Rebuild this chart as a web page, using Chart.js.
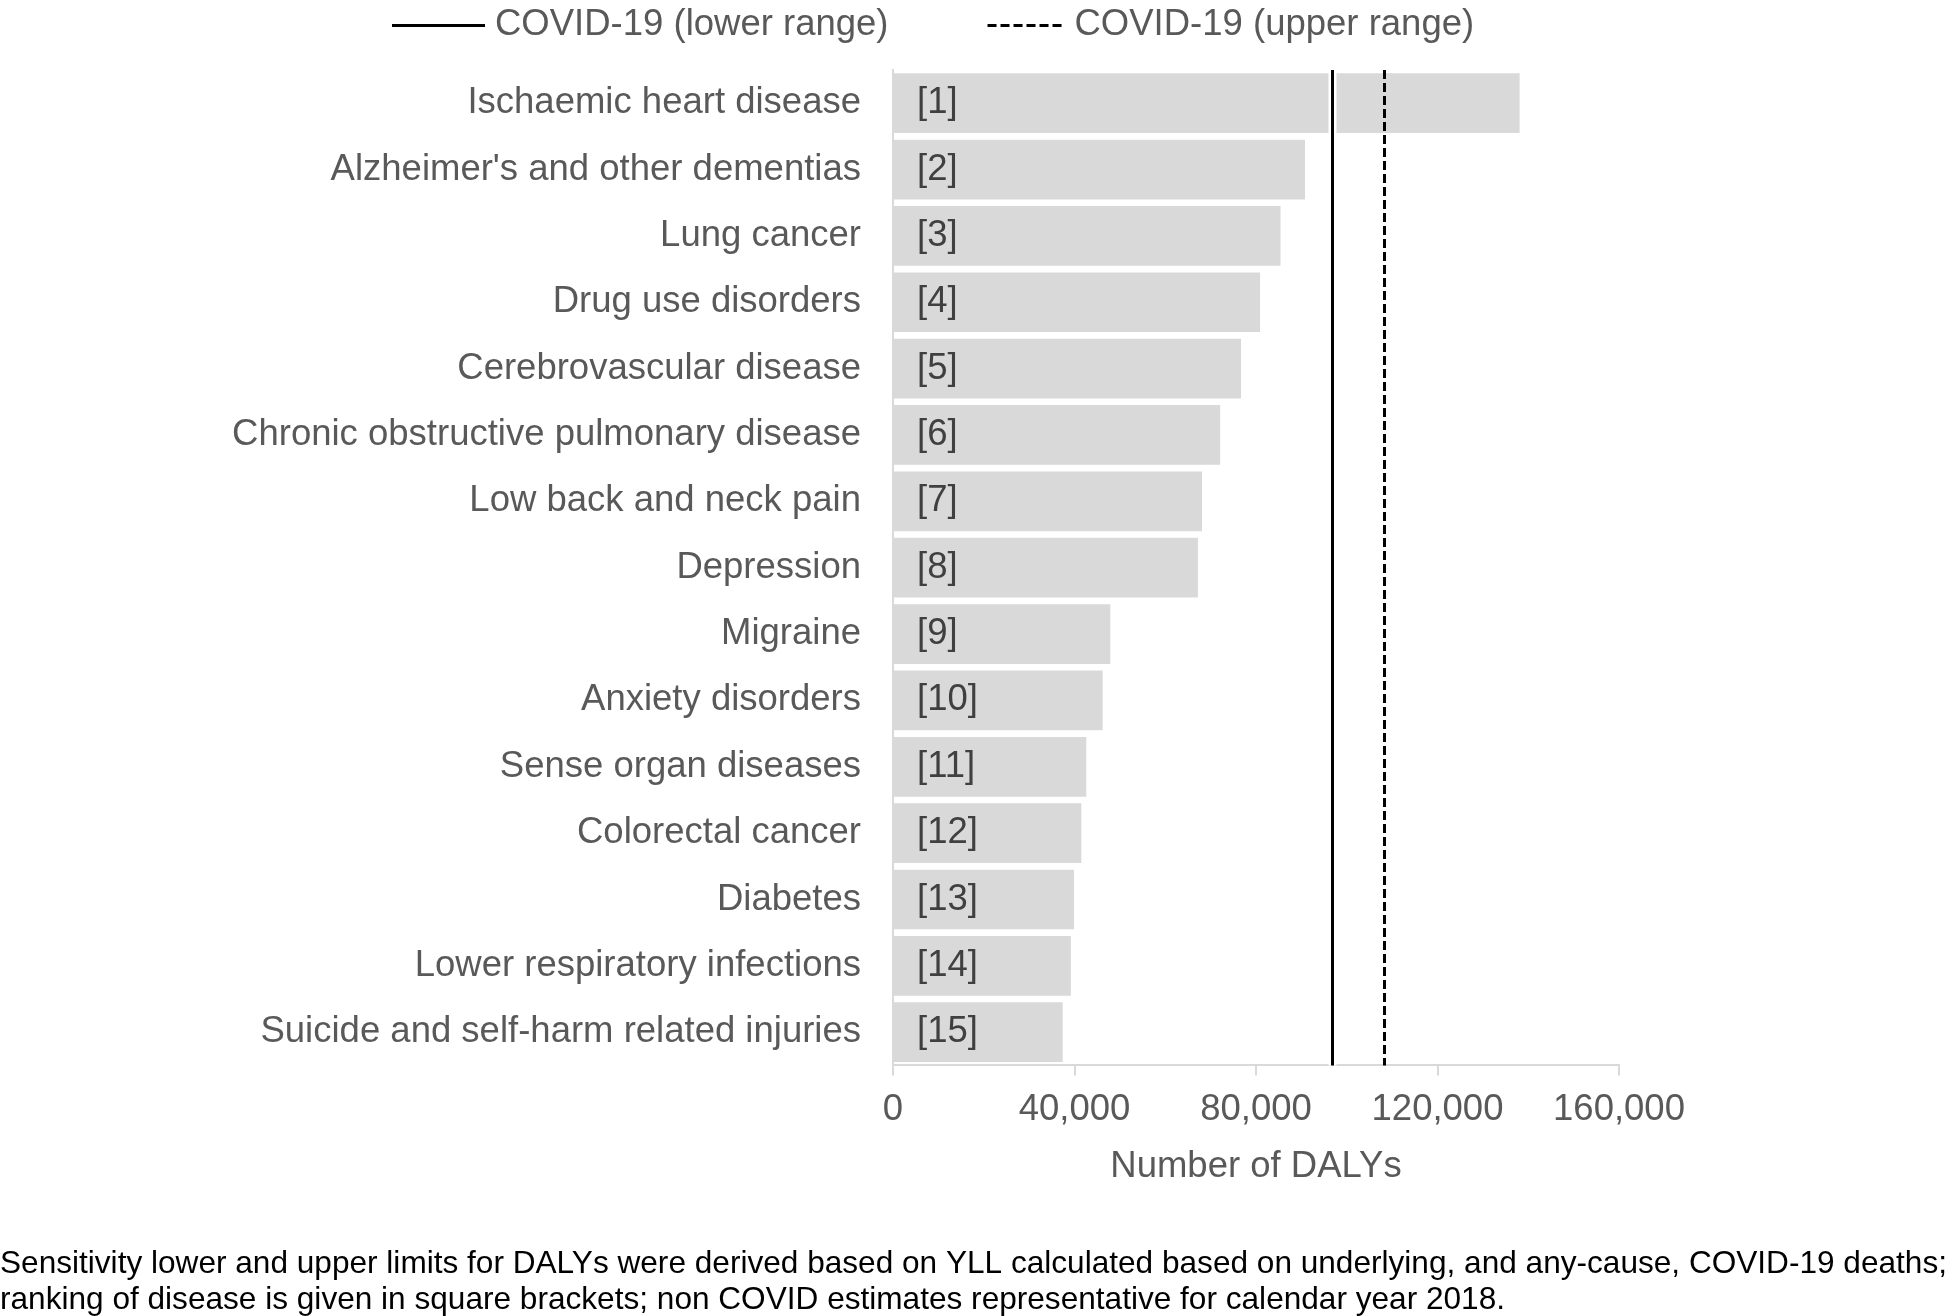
<!DOCTYPE html>
<html>
<head>
<meta charset="utf-8">
<title>DALYs by disease</title>
<script src="https://cdn.jsdelivr.net/npm/chart.js@4.4.0/dist/chart.umd.min.js"></script>
<style>
    html, body { margin: 0; padding: 0; background: #fff; }
    #wrap { width: 1951px; height: 1316px; position: relative; }
</style>
</head>
<body>
<div id="wrap"><canvas id="dalys-chart"></canvas></div>
<script>
// Chart data
const categories = [
    'Ischaemic heart disease',
    "Alzheimer's and other dementias",
    'Lung cancer',
    'Drug use disorders',
    'Cerebrovascular disease',
    'Chronic obstructive pulmonary disease',
    'Low back and neck pain',
    'Depression',
    'Migraine',
    'Anxiety disorders',
    'Sense organ diseases',
    'Colorectal cancer',
    'Diabetes',
    'Lower respiratory infections',
    'Suicide and self-harm related injuries'
];
const dalys = [138100, 90800, 85400, 80900, 76700, 72100, 68100, 67200, 47900, 46200, 42600, 41500, 39900, 39200, 37400];
const ranks = ['[1]', '[2]', '[3]', '[4]', '[5]', '[6]', '[7]', '[8]', '[9]', '[10]', '[11]', '[12]', '[13]', '[14]', '[15]'];

// COVID-19 sensitivity range (DALYs)
const covidLower = 96700;
const covidUpper = 108200;
const legendLabels = ['COVID-19 (lower range)', 'COVID-19 (upper range)'];

const xMin = 0;
const xMax = 160000;
const xStep = 40000;

const footnote = [
    'Sensitivity lower and upper limits for DALYs were derived based on YLL calculated based on underlying, and any-cause, COVID-19 deaths;',
    'ranking of disease is given in square brackets; non COVID estimates representative for calendar year 2018.'
];

const FONT = "Arial, 'Liberation Sans', sans-serif";
const FONT_SIZE = 36.5;
const TEXT_GREY = '#595959';
const DASH = [9, 4];

// Draws the two COVID-19 reference lines, the rank labels, the legend and the footnote
const overlayPlugin = {
    id: 'overlay',
    afterDatasetsDraw(chart) {
        const { ctx, chartArea, scales } = chart;
        const meta = chart.getDatasetMeta(0);

        // rank labels inside bars
        ctx.save();
        ctx.font = FONT_SIZE + 'px ' + FONT;
        ctx.fillStyle = '#404040';
        ctx.textAlign = 'left';
        ctx.textBaseline = 'middle';
        meta.data.forEach((bar, i) => {
            ctx.fillText(ranks[i], scales.x.getPixelForValue(0) + 24, bar.y);
        });
        ctx.restore();

        // vertical lines
        const drawLine = (value, dash) => {
            const x = Math.round(scales.x.getPixelForValue(value)) + 0.5;
            ctx.save();
            if (!dash.length) {
                ctx.strokeStyle = '#fff';
                ctx.lineWidth = 8;
                ctx.beginPath();
                ctx.moveTo(x, chartArea.top);
                ctx.lineTo(x, chartArea.bottom);
                ctx.stroke();
            }
            ctx.strokeStyle = '#000';
            ctx.lineWidth = 3;
            ctx.setLineDash(dash);
            ctx.beginPath();
            ctx.moveTo(x, chartArea.top);
            ctx.lineTo(x, chartArea.bottom);
            ctx.stroke();
            ctx.restore();
        };
        drawLine(covidLower, []);
        drawLine(covidUpper, DASH);
    },
    afterDraw(chart) {
        const { ctx } = chart;
        const lineLen = [93, 77];
        const gap = 10;
        const itemGap = 99;
        const y = 25;

        // legend
        ctx.save();
        ctx.font = FONT_SIZE + 'px ' + FONT;
        ctx.textBaseline = 'middle';
        ctx.textAlign = 'left';
        let x = 392;
        legendLabels.forEach((label, i) => {
            ctx.strokeStyle = '#000';
            ctx.lineWidth = 3;
            ctx.setLineDash(i === 0 ? [] : DASH);
            ctx.beginPath();
            ctx.moveTo(x, y + 0.5);
            ctx.lineTo(x + lineLen[i], y + 0.5);
            ctx.stroke();
            x += lineLen[i] + gap;
            ctx.fillStyle = TEXT_GREY;
            ctx.fillText(label, x, y);
            x += ctx.measureText(label).width + itemGap;
        });
        ctx.restore();

        // footnote
        ctx.save();
        ctx.font = '31.6px ' + FONT;
        ctx.fillStyle = '#000';
        ctx.textAlign = 'left';
        ctx.textBaseline = 'middle';
        ctx.fillText(footnote[0], 0, chart.height - 52);
        ctx.fillText(footnote[1], 0, chart.height - 15.4);
        ctx.restore();
    }
};

const dalysChart = new Chart(document.getElementById('dalys-chart').getContext('2d'), {
    type: 'bar',
    data: {
        labels: categories,
        datasets: [{
            label: 'DALYs',
            data: dalys,
            backgroundColor: '#d9d9d9',
            borderWidth: 0,
            barPercentage: 0.9,
            categoryPercentage: 1.0
        }]
    },
    options: {
        indexAxis: 'y',
        responsive: true,
        maintainAspectRatio: false,
        animation: false,
        devicePixelRatio: 1,
        layout: {
            padding: { top: 70, right: 332, left: 0, bottom: 127 }
        },
        plugins: {
            legend: { display: false },
            tooltip: { enabled: false },
            title: { display: false }
        },
        scales: {
            x: {
                min: xMin,
                max: xMax,
                border: { display: true, color: '#d9d9d9', width: 2 },
                grid: {
                    display: true,
                    drawOnChartArea: false,
                    drawTicks: true,
                    tickLength: 10,
                    color: '#d9d9d9',
                    lineWidth: 2
                },
                ticks: {
                    stepSize: xStep,
                    padding: 13,
                    color: TEXT_GREY,
                    font: { size: FONT_SIZE, family: FONT },
                    callback: (v) => Number(v).toLocaleString('en-US')
                },
                title: {
                    display: true,
                    text: 'Number of DALYs',
                    color: TEXT_GREY,
                    font: { size: FONT_SIZE, family: FONT },
                    padding: { top: 0, bottom: 0 }
                }
            },
            y: {
                border: { display: true, color: '#d9d9d9', width: 2 },
                grid: { display: false, drawTicks: false },
                ticks: {
                    padding: 32,
                    color: TEXT_GREY,
                    font: { size: FONT_SIZE, family: FONT }
                },
                afterFit: (scale) => {
                    scale.width = 893;
                }
            }
        }
    },
    plugins: [overlayPlugin]
});
</script>
</body>
</html>
